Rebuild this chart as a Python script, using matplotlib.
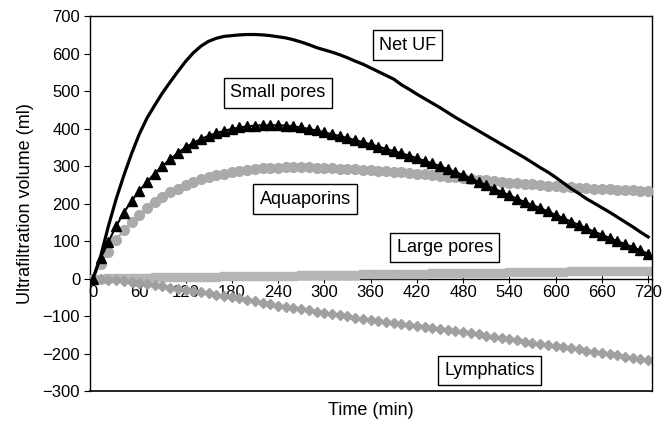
import numpy as np
import matplotlib
matplotlib.use('Agg')
import matplotlib.pyplot as plt

plt.rcParams['font.family'] = ['Liberation Sans', 'DejaVu Sans']

# sampling every 10 min, 0..720
time = np.arange(0, 721, 10)

net_uf = [0, 60, 140, 212, 275, 333, 385, 428, 462, 495,
          524, 552, 579, 602, 620, 633, 641, 646, 648, 650,
          651, 651, 650, 648, 645, 642, 637, 631, 624, 616,
          610, 604, 597, 589, 580, 572, 562, 552, 542, 532,
          517, 505, 492, 480, 468, 456, 443, 430, 418, 406,
          394, 382, 370, 358, 346, 334, 322, 309, 296, 284,
          270, 255, 240, 227, 213, 201, 189, 177, 164, 151,
          138, 124, 111]

small_pores = [0, 54, 98, 140, 176, 207, 234, 258, 280, 300,
               318, 335, 350, 362, 372, 381, 388, 394, 399, 403,
               406, 408, 409, 409, 409, 408, 406, 403, 399, 395,
               390, 385, 380, 375, 369, 364, 358, 352, 346, 340,
               334, 328, 321, 314, 307, 300, 292, 284, 276, 267,
               258, 249, 240, 231, 222, 213, 204, 196, 188, 179,
               170, 161, 152, 143, 134, 125, 117, 108, 100, 92,
               84, 75, 66]

aquaporins = [0, 40, 71, 103, 129, 151, 169, 187, 205, 218,
              230, 240, 249, 258, 265, 271, 276, 280, 284, 287,
              290, 292, 294, 295, 296, 297, 297, 297, 297, 296,
              295, 294, 293, 292, 291, 290, 289, 288, 287, 285,
              284, 282, 280, 278, 276, 274, 272, 270, 268, 266,
              264, 262, 260, 258, 256, 254, 253, 251, 250, 248,
              247, 245, 244, 242, 241, 240, 239, 238, 237, 236,
              235, 234, 233]

large_pores = [0, 0, 1, 1, 1, 2, 2, 2, 3, 3,
               3, 4, 4, 4, 5, 5, 5, 6, 6, 6,
               7, 7, 7, 8, 8, 8, 8, 9, 9, 9,
               9, 10, 10, 10, 10, 11, 11, 11, 12, 12,
               12, 13, 13, 13, 14, 14, 14, 15, 15, 15,
               15, 16, 16, 16, 17, 17, 17, 17, 18, 18,
               18, 18, 19, 19, 19, 19, 20, 20, 20, 20,
               21, 21, 21]

lymphatics = [0, -1, -3, -5, -7, -10, -12, -15, -18, -21,
              -24, -27, -30, -33, -36, -39, -43, -46, -50, -53,
              -57, -61, -64, -68, -72, -75, -79, -82, -85, -88,
              -92, -95, -98, -101, -104, -108, -111, -113, -116, -119,
              -121, -124, -126, -129, -131, -134, -137, -140, -143, -146,
              -149, -153, -156, -159, -162, -165, -168, -171, -174, -177,
              -180, -183, -186, -189, -192, -195, -199, -202, -205, -208,
              -211, -214, -217]

fig = plt.figure(figsize=(6.66, 4.25), dpi=100)
ax = fig.add_axes([0.135, 0.08, 0.844, 0.882])

ax.plot(time, large_pores, color='#b5b5b5', lw=1.5, marker='s', ms=6.2,
        mec='#b5b5b5', zorder=2)
ax.plot(time, lymphatics, color='#a0a0a0', lw=1.5, marker='D', ms=4.8,
        mec='#a0a0a0', zorder=2)
ax.plot(time, aquaporins, color='#aaaaaa', lw=1.5, marker='o', ms=7,
        mec='#aaaaaa', zorder=3)
ax.plot(time, small_pores, color='black', lw=1.5, marker='^', ms=7.5,
        zorder=4)
ax.plot(time, net_uf, color='black', lw=2.3, zorder=5)

ax.set_xlim(-4, 725)
ax.set_ylim(-300, 700)
ax.set_xticks(np.arange(0, 721, 60))
ax.set_yticks(np.arange(-300, 701, 100))

ax.spines['bottom'].set_position(('data', 0))
ax.spines['bottom'].set_zorder(1)
ax.axhline(-300, color='black', lw=1.2, clip_on=False)
for s in ['left', 'right', 'top', 'bottom']:
    ax.spines[s].set_linewidth(1.0)

ax.tick_params(axis='x', direction='inout', length=6, labelsize=12, pad=2)
ax.tick_params(axis='y', direction='out', length=4, labelsize=12, pad=3)

ax.set_xlabel('Time (min)', fontsize=13, labelpad=0)
ax.xaxis.set_label_coords(0.5, -0.03)
ax.set_ylabel('Ultrafiltration volume (ml)', fontsize=13, labelpad=6)

box = dict(boxstyle='square,pad=0.35', fc='white', ec='black', lw=1)
ax.text(408, 623, 'Net UF', fontsize=13, ha='center', va='center', bbox=box, zorder=6)
ax.text(240, 495, 'Small pores', fontsize=13, ha='center', va='center', bbox=box, zorder=6)
ax.text(275, 212, 'Aquaporins', fontsize=13, ha='center', va='center', bbox=box, zorder=6)
ax.text(456, 83, 'Large pores', fontsize=13, ha='center', va='center', bbox=box, zorder=6)
ax.text(514, -245, 'Lymphatics', fontsize=13, ha='center', va='center', bbox=box, zorder=6)

fig.savefig('out.png', dpi=100)
